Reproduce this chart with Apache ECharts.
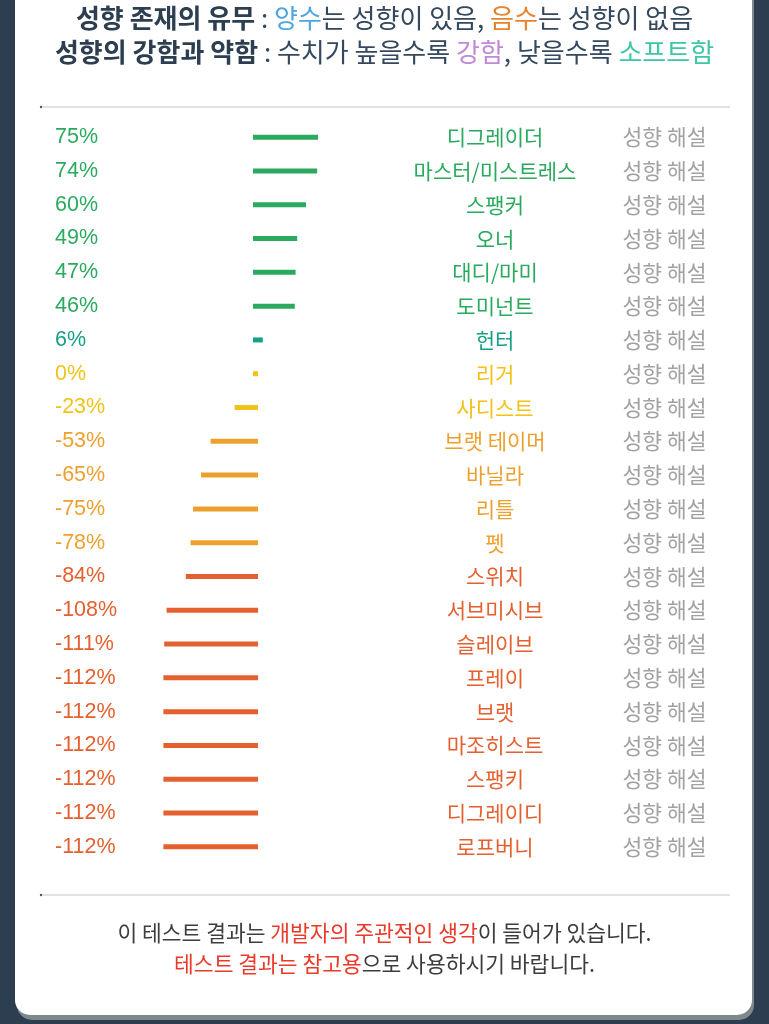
<!DOCTYPE html>
<html>
<head>
<meta charset="utf-8">
<script src="https://cdn.jsdelivr.net/npm/echarts@6/dist/echarts.min.js"></script>
<style>
  html, body { margin: 0; padding: 0; background: #2c3e50; }
  #chart { width: 769px; height: 1024px; }
</style>
</head>
<body>
<div id="chart"></div>
<script>
// ---- data ----
const categories = ['디그레이더','마스터/미스트레스','스팽커','오너','대디/마미','도미넌트','헌터','리거','사디스트','브랫 테이머','바닐라','리틀','펫','스위치','서브미시브','슬레이브','프레이','브랫','마조히스트','스팽키','디그레이디','로프버니'];
const values = [75, 74, 60, 49, 47, 46, 6, 0, -23, -53, -65, -75, -78, -84, -108, -111, -112, -112, -112, -112, -112, -112];
const descLabels = categories.map(() => '성향 해설');
const pctLabels = values.map(v => v + '%');

// ---- style ----
function colorFor(v) {
  if (v >= 40) return '#2aaa5e';
  if (v > 0) return '#17a085';
  if (v >= -30) return '#f1c217';
  if (v >= -80) return '#eea02e';
  return '#e4602e';
}
const KR = '"Noto Sans CJK KR", "Noto Sans", sans-serif';
const barH = 5;
const HF = 26;   // header font size
const FF = 21.5; // footer font size

function richH(extra) {
  return Object.assign({ fontFamily: KR, fontSize: HF, color: '#34495e' }, extra);
}
function richF(extra) {
  return Object.assign({ fontFamily: KR, fontSize: FF, color: '#3d3d3d' }, extra);
}
const headRich = {
  b: richH({ fontWeight: 'bold', color: '#2c3e50' }),
  blue: richH({ color: '#4ea6dc' }),
  orange: richH({ color: '#e8832c' }),
  purple: richH({ color: '#c08ad6' }),
  teal: richH({ color: '#3ec6a8' })
};
const footRich = { r: richF({ color: '#ea3a2a' }) };

const chart = echarts.init(document.getElementById('chart'), null, { renderer: 'canvas' });

const option = {
  backgroundColor: '#2c3e50',
  animation: false,
  graphic: [
    { type: 'rect', z: -10, shape: { x: 17, y: -30, width: 737, height: 1050, r: 15 }, style: { fill: '#7d898b' } },
    { type: 'rect', z: -9, shape: { x: 15, y: -30, width: 737, height: 1045, r: 15 }, style: { fill: '#ffffff' } },
    { type: 'line', z: -5, shape: { x1: 40, y1: 107, x2: 730, y2: 107 }, style: { stroke: '#e2e2e2', lineWidth: 2 } },
    { type: 'circle', z: -4, shape: { cx: 41, cy: 107, r: 1.2 }, style: { fill: '#555' } },
    { type: 'line', z: -5, shape: { x1: 40, y1: 895, x2: 730, y2: 895 }, style: { stroke: '#e2e2e2', lineWidth: 2 } },
    { type: 'circle', z: -4, shape: { cx: 41, cy: 895, r: 1.2 }, style: { fill: '#555' } }
  ],
  title: [
    {
      left: 'center', top: 5, padding: 0,
      text: '{b|성향 존재의 유무} : {blue|양수}는 성향이 있음, {orange|음수}는 성향이 없음',
      textStyle: { fontFamily: KR, fontSize: HF, color: '#34495e', fontWeight: 'normal', rich: headRich }
    },
    {
      left: 'center', top: 39, padding: 0,
      text: '{b|성향의 강함과 약함} : 수치가 높을수록 {purple|강함}, 낮을수록 {teal|소프트함}',
      textStyle: { fontFamily: KR, fontSize: HF, color: '#34495e', fontWeight: 'normal', rich: headRich }
    },
    {
      left: 'center', top: 922, padding: 0,
      text: '이 테스트 결과는 {r|개발자의 주관적인 생각}이 들어가 있습니다.',
      textStyle: { fontFamily: KR, fontSize: FF, color: '#3d3d3d', fontWeight: 'normal', rich: footRich }
    },
    {
      left: 'center', top: 953, padding: 0,
      text: '{r|테스트 결과는 참고용}으로 사용하시기 바랍니다.',
      textStyle: { fontFamily: KR, fontSize: FF, color: '#3d3d3d', fontWeight: 'normal', rich: footRich }
    }
  ],
  grid: { left: 135.5, width: 240, top: 120.3, height: 743.4, containLabel: false },
  xAxis: { type: 'value', min: -150, max: 150, show: false },
  yAxis: [
    {
      type: 'category', inverse: true, position: 'left', data: pctLabels,
      axisLine: { show: false }, axisTick: { show: false }, splitLine: { show: false },
      axisLabel: {
        align: 'left', margin: 80.5, fontSize: 21.5, fontFamily: '"Liberation Sans", Arial, sans-serif',
        padding: [2, 0, 0, 0],
        color: (val, idx) => colorFor(values[idx])
      }
    },
    {
      type: 'category', inverse: true, position: 'right', data: categories,
      axisLine: { show: false }, axisTick: { show: false }, splitLine: { show: false },
      axisLabel: {
        align: 'center', margin: 119.5, fontSize: 21, fontFamily: KR,
        padding: [5, 0, 0, 0],
        color: (val, idx) => colorFor(values[idx])
      }
    },
    {
      type: 'category', inverse: true, position: 'right', data: descLabels, offset: 0,
      axisLine: { show: false }, axisTick: { show: false }, splitLine: { show: false },
      axisLabel: {
        align: 'center', margin: 289, fontSize: 21.5, fontFamily: KR, color: '#a2a2a2',
        padding: [5, 0, 0, 0]
      }
    }
  ],
  series: [
    {
      type: 'custom',
      yAxisIndex: 0,
      data: values.map((v, i) => [v, i]),
      encode: { x: 0, y: 1 },
      renderItem: function (params, api) {
        const v = api.value(0);
        const i = api.value(1);
        const p0 = api.coord([0, i]);
        const p1 = api.coord([v, i]);
        const x0 = Math.min(p0[0], p1[0]) - barH / 2;
        const x1 = Math.max(p0[0], p1[0]) + barH / 2;
        return {
          type: 'rect',
          shape: { x: x0, y: p0[1] - barH / 2, width: x1 - x0, height: barH },
          style: { fill: colorFor(v) }
        };
      }
    }
  ]
};
chart.setOption(option);
</script>
</body>
</html>
